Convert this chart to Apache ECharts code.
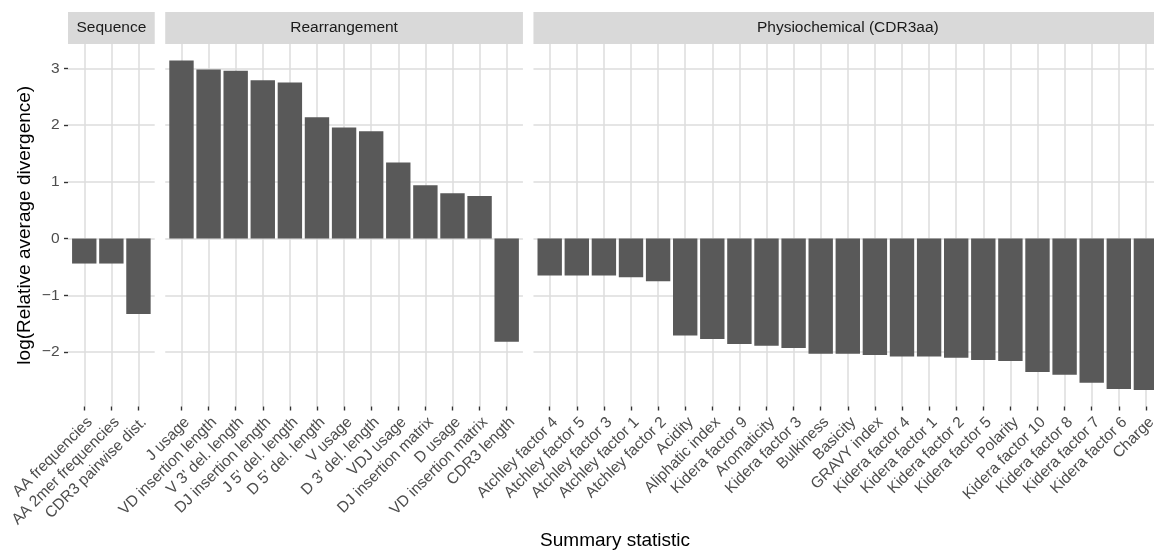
<!DOCTYPE html>
<html><head><meta charset="utf-8">
<script src="https://cdn.jsdelivr.net/npm/echarts@6/dist/echarts.min.js"></script>
<style>html,body{margin:0;padding:0;background:#fff}#c{width:1154px;height:552px}</style>
</head><body><div id="c"></div>
<script>
// ---- data ----
const panelNames = ['Sequence', 'Rearrangement', 'Physiochemical (CDR3aa)'];
const seqCats = ['AA frequencies', 'AA 2mer frequencies', 'CDR3 pairwise dist.'];
const seqVals = [-0.44, -0.44, -1.33];
const rearrCats = ['J usage', 'VD insertion length', "V 3' del. length", 'DJ insertion length',
  "J 5' del. length", "D 5' del. length", 'V usage', "D 3' del. length", 'VDJ usage',
  'DJ insertion matrix', 'D usage', 'VD insertion matrix', 'CDR3 length'];
const rearrVals = [3.14, 2.98, 2.96, 2.79, 2.75, 2.14, 1.96, 1.89, 1.34, 0.94, 0.80, 0.75, -1.82];
const physCats = ['Atchley factor 4', 'Atchley factor 5', 'Atchley factor 3', 'Atchley factor 1',
  'Atchley factor 2', 'Acidity', 'Aliphatic index', 'Kidera factor 9', 'Aromaticity',
  'Kidera factor 3', 'Bulkiness', 'Basicity', 'GRAVY index', 'Kidera factor 4', 'Kidera factor 1',
  'Kidera factor 2', 'Kidera factor 5', 'Polarity', 'Kidera factor 10', 'Kidera factor 8',
  'Kidera factor 7', 'Kidera factor 6', 'Charge'];
const physVals = [-0.65, -0.65, -0.65, -0.68, -0.75, -1.71, -1.77, -1.86, -1.89, -1.93, -2.03,
  -2.03, -2.05, -2.08, -2.08, -2.10, -2.14, -2.16, -2.35, -2.40, -2.54, -2.65, -2.67];
const yTicks = [-2, -1, 0, 1, 2, 3];
const yMin = -2.96, yMax = 3.43;
const yTitle = 'log(Relative average divergence)';
const xTitle = 'Summary statistic';

// ---- layout ----
const FONT = '"Liberation Sans", Arial, Helvetica, sans-serif';
const panels = [[seqCats, seqVals], [rearrCats, rearrVals], [physCats, physVals]];
const band = 27.1, gap = 10.5, left0 = 68, panelTop = 44, panelH = 362.5, stripTop = 12, stripH = 32;
const GRID = '#DDDDDD', TICK = '#333333';
const fsTick = 15.5, fsTitle = 19;
let px = left0;
const boxes = panels.map(([c]) => { const w = (c.length + 0.2) * band; const b = {x: px, w: w}; px += w + gap; return b; });
const plotRight = px - gap;

const fmtY = v => (v < 0 ? '\u2212' + Math.abs(v) : String(v));

const grids = [], xAxes = [], yAxes = [], series = [], graphics = [];
panels.forEach(([cats, vals], i) => {
  const b = boxes[i];
  const idx = cats.map((_, k) => k + 1);
  grids.push({left: b.x, top: panelTop, width: b.w, height: panelH, containLabel: false, outerBoundsMode: 'none'});
  xAxes.push({
    type: 'value', gridIndex: i, min: 0.4, max: cats.length + 0.6,
    axisLine: {show: false, onZero: false},
    axisTick: {show: true, customValues: idx, length: 4, lineStyle: {color: TICK, width: 1.4}},
    axisLabel: {customValues: idx, formatter: v => cats[Math.round(v) - 1] || '', rotate: 45, margin: 7.7,
      align: 'right', verticalAlign: 'top',
      fontSize: fsTick, color: '#4D4D4D', fontFamily: FONT},
    splitLine: {show: true, lineStyle: {color: GRID, width: 1.5}}
  });
  yAxes.push({
    type: 'value', gridIndex: i, min: yMin, max: yMax,
    axisLine: {show: false, onZero: false},
    axisTick: {show: i === 0, customValues: yTicks, length: 4, lineStyle: {color: TICK, width: 1.4}},
    axisLabel: {show: i === 0, customValues: yTicks, formatter: fmtY, margin: 8.5,
      fontSize: fsTick, color: '#4D4D4D', fontFamily: FONT},
    splitLine: {show: true, lineStyle: {color: GRID, width: 1.5}},
    name: i === 0 ? yTitle : '', nameLocation: 'middle', nameRotate: 90, nameGap: 33.6,
    nameTextStyle: {fontSize: fsTitle, color: '#000', fontFamily: FONT}
  });
  series.push({
    type: 'bar', xAxisIndex: i, yAxisIndex: i, barWidth: '90%',
    data: cats.map((c, k) => [k + 1, vals[k]]),
    itemStyle: {color: '#595959'}, silent: true
  });
  graphics.push({type: 'rect', shape: {x: b.x, y: stripTop, width: b.w, height: stripH}, style: {fill: '#D9D9D9'}, silent: true});
  graphics.push({type: 'text', x: b.x + b.w / 2, y: stripTop + stripH / 2,
    style: {text: panelNames[i], fill: '#1A1A1A', font: fsTick + 'px ' + FONT, align: 'center', verticalAlign: 'middle'}, silent: true});
});
graphics.push({type: 'text', x: (left0 + plotRight) / 2, y: 541,
  style: {text: xTitle, fill: '#000', font: fsTitle + 'px ' + FONT, align: 'center', verticalAlign: 'middle'}, silent: true});

const chart = echarts.init(document.getElementById('c'), null, {renderer: 'canvas'});
chart.setOption({
  animation: false, backgroundColor: '#ffffff',
  grid: grids, xAxis: xAxes, yAxis: yAxes, series: series, graphic: graphics
});
</script></body></html>
